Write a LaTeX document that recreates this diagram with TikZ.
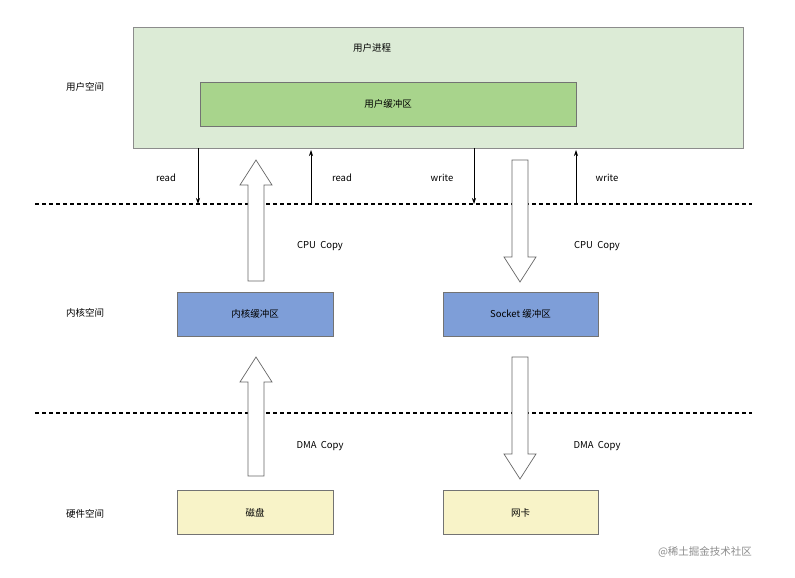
\documentclass[tikz,border=0pt]{standalone}
\usepackage{fontspec}
\usetikzlibrary{arrows.meta}
\setmainfont{Noto Sans CJK SC}
\definecolor{outerg}{HTML}{DCEBD6}
\definecolor{innerg}{HTML}{A8D48C}
\definecolor{kblue}{HTML}{7E9ED8}
\definecolor{hyel}{HTML}{F8F3C8}
\begin{document}
\begin{tikzpicture}[x=1pt,y=-1pt,font=\fontsize{9.5}{11}\selectfont,
  box/.style={draw=black!55,line width=0.5pt,minimum height=44pt,inner sep=0pt},
  lbl/.style={inner sep=1pt},
  thin/.style={-{Stealth[length=6pt,width=4pt]},line width=0.7pt},
  dline/.style={line width=1.3pt,dash pattern=on 4pt off 3pt}]
\useasboundingbox (0,0) rectangle (795,578);
% user space
\node[draw=black!45,fill=outerg,minimum width=610pt,minimum height=121pt,inner sep=0pt] (proc) at (438,87.5) {};
\node[lbl] (proct) at (372,48) {用户进程};
\node[box,fill=innerg,minimum width=376pt] (ubuf) at (388,104) {用户缓冲区};
\node[lbl] at (85,87) {用户空间};
\node[lbl] at (85,313) {内核空间};
\node[lbl] at (85,514) {硬件空间};
% dashed
\coordinate (d1a) at (35,204); \coordinate (d1b) at (752,204);
\coordinate (d2a) at (35,413); \coordinate (d2b) at (752,413);
\draw[dline] (d1a) -- (d1b);
\draw[dline] (d2a) -- (d2b);
% kernel
\node[box,fill=kblue,minimum width=156pt] (kbuf) at (255,314) {内核缓冲区};
\node[box,fill=kblue,minimum width=155pt] (sbuf) at (520.5,314) {Socket 缓冲区};
% hardware
\node[box,fill=hyel,minimum width=156pt] (disk) at (255,512.5) {磁盘};
\node[box,fill=hyel,minimum width=155pt] (nic) at (520.5,512.5) {网卡};
% thin arrows
\coordinate (r1) at (198,204); \coordinate (r2) at (311,204);
\coordinate (w1) at (474,204); \coordinate (w2) at (576,204);
\draw[thin] (198,148) -- (r1);
\draw[thin] (r2) -- (311,150);
\draw[thin] (474,148) -- (w1);
\draw[thin] (w2) -- (576,150);
\node[lbl] at (166,178) {read};
\node[lbl] at (342,178) {read};
\node[lbl] at (442,178) {write};
\node[lbl] at (607,178) {write};
% hollow arrows
\def\uparr#1#2#3{\draw[black!60,fill=white,line width=0.7pt] (#1-8,#2) -- (#1-8,#3+25) -- (#1-16,#3+25) -- (#1,#3) -- (#1+16,#3+25) -- (#1+8,#3+25) -- (#1+8,#2) -- cycle;}
\def\dnarr#1#2#3{\draw[black!60,fill=white,line width=0.7pt] (#1-8,#2) -- (#1-8,#3-25) -- (#1-16,#3-25) -- (#1,#3) -- (#1+16,#3-25) -- (#1+8,#3-25) -- (#1+8,#2) -- cycle;}
\uparr{256}{281}{160}
\dnarr{520}{160}{282}
\uparr{256}{476}{357}
\dnarr{520}{357}{479}
\node[lbl] at (320,246) {CPU\ \ Copy};
\node[lbl] at (597,246) {CPU\ \ Copy};
\node[lbl] at (320,446) {DMA\ \ Copy};
\node[lbl] at (597,446) {DMA\ \ Copy};
\node[lbl,text=black!45,font=\fontsize{10.5}{12}\selectfont] at (705,552) {@稀土掘金技术社区};
\end{tikzpicture}
\end{document}
